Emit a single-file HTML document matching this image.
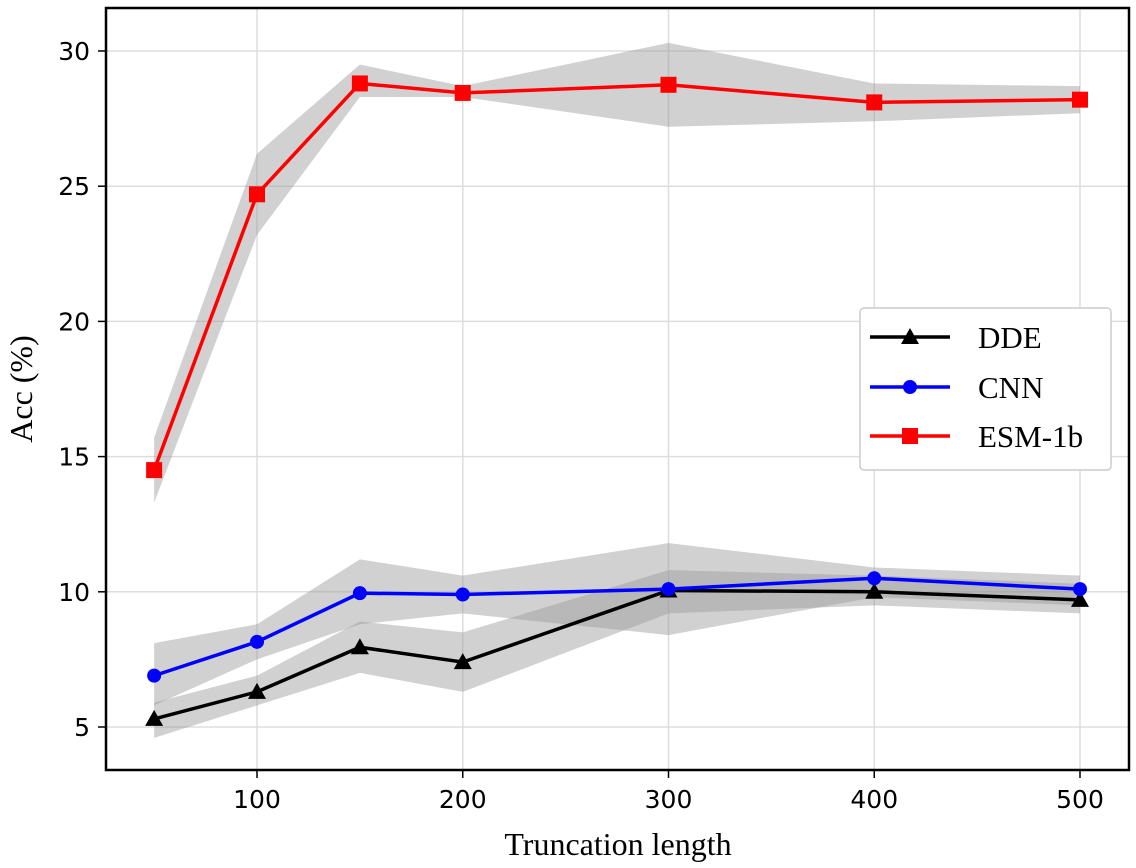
<!DOCTYPE html>
<html><head><meta charset="utf-8"><style>
body{margin:0;background:#fff;}
svg{display:block;}
.tick{font-family:"DejaVu Sans","Liberation Sans",sans-serif;font-size:25px;fill:#000;}
.lab{font-family:"Liberation Serif",serif;font-size:32px;fill:#000;}
.leg{font-family:"Liberation Serif",serif;font-size:31px;fill:#000;}
</style></head><body>
<svg id="chart" width="1136" height="868" viewBox="0 0 1136 868" xmlns="http://www.w3.org/2000/svg">
<g id="grid"></g>
<g id="bands"></g>
<g id="lines"></g>
<rect x="106" y="8" width="1023" height="762" fill="none" stroke="#000" stroke-width="2.5"/>
<g id="ticks"></g>
<text class="lab" x="618" y="855" text-anchor="middle">Truncation length</text>
<text class="lab" transform="translate(32,389) rotate(-90)" text-anchor="middle">Acc (%)</text>
<g>
<rect x="860" y="308" width="251" height="162" rx="4" fill="#fff" stroke="#ccc" stroke-width="1.5"/>
<g><line x1="870" y1="337" x2="950" y2="337" stroke="#000" stroke-width="3.5"/><polygon points="910,328 919,344 901,344" fill="#000"/><text class="leg" x="978" y="348">DDE</text></g>
<g><line x1="870" y1="387" x2="950" y2="387" stroke="#0000ff" stroke-width="3.5"/><circle cx="910" cy="387" r="7" fill="#0000ff"/><text class="leg" x="978" y="398">CNN</text></g>
<g><line x1="870" y1="436" x2="950" y2="436" stroke="#ff0000" stroke-width="3.5"/><rect x="902" y="428" width="16" height="16" fill="#ff0000"/><text class="leg" x="978" y="447">ESM-1b</text></g>
</g>
</svg>
<script>
const lengths=[50,100,150,200,300,400,500];
const esm=[14.5,24.7,28.8,28.45,28.75,28.1,28.2];
const esmLo=[13.3,23.2,28.3,28.3,27.2,27.4,27.7];
const esmHi=[15.7,26.2,29.5,28.7,30.3,28.8,28.7];
const cnn=[6.9,8.15,9.95,9.9,10.1,10.5,10.1];
const cnnLo=[5.8,7.5,8.8,9.2,8.4,9.8,9.5];
const cnnHi=[8.1,8.8,11.2,10.6,11.8,10.9,10.6];
const dde=[5.3,6.3,7.95,7.4,10.05,10.0,9.7];
const ddeLo=[4.6,5.8,7.0,6.3,9.2,9.5,9.2];
const ddeHi=[5.9,6.9,8.9,8.5,10.8,10.6,10.3];
const xTicks=[100,200,300,400,500];
const yTicks=[5,10,15,20,25,30];
const NS="http://www.w3.org/2000/svg";
const X=v=>257+(v-100)*2.0575;
const Y=v=>727-(v-5)*27.04;
function mk(t,a,p){const e=document.createElementNS(NS,t);for(const k in a)e.setAttribute(k,a[k]);p.appendChild(e);return e;}
const grid=document.getElementById('grid'),ticks=document.getElementById('ticks'),bands=document.getElementById('bands'),lines=document.getElementById('lines');
xTicks.forEach(v=>{
 const g=mk('line',{x1:X(v),x2:X(v),y1:8,y2:770,stroke:'#ddd','stroke-width':1.5},grid);
 
 const tk=mk('line',{x1:X(v),x2:X(v),y1:770,y2:778,stroke:'#000','stroke-width':1.5},ticks);
 
 const t=mk('text',{x:X(v),y:808,'text-anchor':'middle',class:'tick'},ticks);t.textContent=v;
 
});
yTicks.forEach(v=>{
 const g=mk('line',{x1:106,x2:1129,y1:Y(v),y2:Y(v),stroke:'#ddd','stroke-width':1.5},grid);
 
 const tk=mk('line',{x1:98,x2:106,y1:Y(v),y2:Y(v),stroke:'#000','stroke-width':1.5},ticks);
 
 const t=mk('text',{x:90,y:Y(v)+9,'text-anchor':'end',class:'tick'},ticks);t.textContent=v;
 
});
function band(lo,hi,name){
 const pts=lengths.map((l,i)=>X(l)+','+Y(hi[i])).concat(lengths.map((l,i)=>X(l)+','+Y(lo[i])).reverse());
 const p=mk('polygon',{points:pts.join(' '),fill:'#999','fill-opacity':0.45},bands);
 
}
band(ddeLo,ddeHi,'dde-band');band(cnnLo,cnnHi,'cnn-band');band(esmLo,esmHi,'esm-band');
function series(vals,col,marker,name){
 const pl=mk('polyline',{points:lengths.map((l,i)=>X(l)+','+Y(vals[i])).join(' '),fill:'none',stroke:col,'stroke-width':3.5},lines);
 
 lengths.forEach((l,i)=>{
  const x=X(l),y=Y(vals[i]);let m;
  if(marker==='tri')m=mk('polygon',{points:`${x},${y-9} ${x+9},${y+7} ${x-9},${y+7}`,fill:col},lines);
  else if(marker==='circ')m=mk('circle',{cx:x,cy:y,r:7,fill:col},lines);
  else m=mk('rect',{x:x-8,y:y-8,width:16,height:16,fill:col},lines);
  
 });
}
series(dde,'#000','tri','dde');series(cnn,'#0000ff','circ','cnn');series(esm,'#ff0000','sq','esm-1b');
</script>
</body></html>
